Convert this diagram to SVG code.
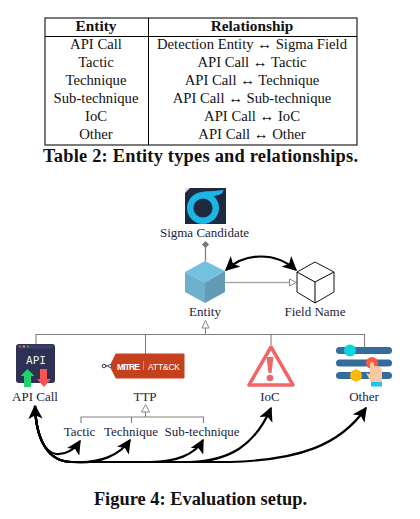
<svg xmlns="http://www.w3.org/2000/svg" width="420" height="519" viewBox="0 0 420 519">
<style>
text{font-family:"Liberation Serif","Times New Roman",serif;fill:#111;text-anchor:middle}
.t{font-size:14.700px}
.h{font-size:15.300px;font-weight:bold}
.c{font-size:18.400px;font-weight:bold}
.l{font-size:13px;fill:#1a2340}
.g{fill:none;stroke:#808080;stroke-width:1.100}
.k{fill:none;stroke:#000;stroke-width:2.200}
.b{fill:none;stroke:#000;stroke-width:1}
</style>
<defs>
<marker id="ah" viewBox="0 0 10 10" refX="9" refY="5" markerWidth="6.500" markerHeight="6.500" markerUnits="strokeWidth" orient="auto-start-reverse"><path d="M0 0L10 5L0 10L2.500 5Z" fill="#000"/></marker>
</defs>
<g id="table">
<rect x="45" y="18" width="312" height="127" class="b" style="stroke:#333;stroke-width:1.300"/>
<path d="M45 36.500H357M148.500 18V145" class="b"/>
<text class="h" x="96" y="31">Entity</text><text class="h" x="252" y="31">Relationship</text>
<text class="t" x="96" y="49">API Call</text><text class="t" x="252" y="49">Detection Entity ↔ Sigma Field</text>
<text class="t" x="96" y="67">Tactic</text><text class="t" x="252" y="67">API Call ↔ Tactic</text>
<text class="t" x="96" y="85">Technique</text><text class="t" x="252" y="85">API Call ↔ Technique</text>
<text class="t" x="96" y="103">Sub-technique</text><text class="t" x="252" y="103">API Call ↔ Sub-technique</text>
<text class="t" x="96" y="121">IoC</text><text class="t" x="252" y="121">API Call ↔ IoC</text>
<text class="t" x="96" y="139">Other</text><text class="t" x="252" y="139">API Call ↔ Other</text>
<text class="c" x="200.500" y="162" textLength="315">Table 2: Entity types and relationships.</text>
</g>
<g id="connectors">
<path class="g" d="M205.500 244V261" style="stroke-width:1.300"/>
<path d="M205.500 241L209 244.500L205.500 248L202 244.500Z" fill="#777"/>
<path class="g" d="M225 282.500H290" style="stroke:#aaa;stroke-width:1.500"/>
<path d="M289.500 279L296.500 282.500L289.500 286Z" fill="#fff" stroke="#888"/>
<path class="g" d="M205.500 328V334"/>
<path d="M205.500 320.500L209 328L202 328Z" fill="#fff" stroke="#888"/>
<path class="g" d="M36 344V334.500H364.500V349M145.500 334.500V354M271 334.500V345"/>
<path class="g" d="M145.500 412V417M81 423V417H203.500V423M131.500 417V423"/>
<path d="M145.500 404.500L149.500 412L141.500 412Z" fill="#fff" stroke="#888"/>
<path class="k" d="M226 270C246 252 276 252 296 270" marker-start="url(#ah)" marker-end="url(#ah)"/>
<path class="k" d="M35 406C36 435 44 452 56 454C66 455 75 449 80 441" marker-start="url(#ah)" marker-end="url(#ah)"/>
<path class="k" d="M35 406C36 440 48 462 72 462C100 464 120 455 130 440" marker-end="url(#ah)"/>
<path class="k" d="M35 406C36 440 48 462 72 462H150C175 462 195 455 203 440" marker-end="url(#ah)"/>
<path class="k" d="M35 406C36 440 48 462 72 462H190C230 461 255 445 271 408" marker-end="url(#ah)"/>
<path class="k" d="M35 406C36 440 48 462 72 462H230C300 460 340 445 366 408" marker-end="url(#ah)"/>
</g>
<g id="sigma">
<rect x="185" y="188" width="41" height="36" fill="#1e2a3f"/>
<path d="M185 188h5l-5 5Z" fill="#dfe3ea"/>
<circle cx="203" cy="208" r="12.800" fill="none" stroke="#1cb5e8" stroke-width="6.400"/>
<path d="M203 191.500C210 191 218 191 223.500 190C223 193 221 195 216 195.500L208 198Z" fill="#1cb5e8"/>
<text class="l" x="204.500" y="237">Sigma Candidate</text>
</g>
<g id="entity">
<path d="M205 261L225 271L205 282.500L185 272Z" fill="#74c0e0"/>
<path d="M185 272L205 282.500V303L185 292Z" fill="#6db0cd"/>
<path d="M225 271L205 282.500V303L225 292Z" fill="#639ab5"/>
<text class="l" x="205" y="316">Entity</text>
</g>
<g id="field-name">
<path d="M315 262L334 272V292L315 303L297 292V272Z" fill="#fff" stroke="#111" stroke-width="1"/>
<path d="M297 272L315 282L334 272M315 282V303" class="b"/>
<text class="l" x="315" y="316">Field Name</text>
</g>
<g id="api-call">
<rect x="16" y="344" width="39" height="39" rx="3" fill="#2e3054"/>
<rect x="18" y="345" width="35" height="3.500" fill="#3b3e68"/>
<circle cx="20" cy="346.500" r="1" fill="#ef5350"/><circle cx="24" cy="346.500" r="1" fill="#f5b942"/><circle cx="28" cy="346.500" r="1" fill="#4caf50"/>
<text x="36" y="363.500" style="font-family:'DejaVu Sans Mono',monospace;font-size:11px;fill:#f2f2f2">API</text>
<path d="M27.500 369L34.500 376H31V387H24V376H20.500Z" fill="#1fd36a"/>
<path d="M40 369H47V379H51L44 387L37 379H40Z" fill="#fb5252"/>
<text class="l" x="35" y="401">API Call</text>
</g>
<g id="ttp">
<path d="M110 366L116 354H184V378H116Z" fill="#c5401c" stroke="#c5401c" stroke-width="1" stroke-linejoin="round"/>
<path d="M103 366H110" stroke="#2b3a55" stroke-width="1.200"/>
<circle cx="104" cy="366" r="1.800" fill="#fff" stroke="#2b3a55"/><circle cx="110" cy="366" r="1.500" fill="#fff" stroke="#2b3a55" stroke-width=".8"/>
<text x="128.500" y="369.500" textLength="23" style="font-family:'Liberation Sans',sans-serif;font-size:8.500px;font-weight:bold;fill:#fff">MITRE</text>
<path d="M143.500 361V370" stroke="#e8a48d" stroke-width=".7"/>
<text x="164" y="369.500" textLength="32" style="font-family:'Liberation Sans',sans-serif;font-size:8.500px;fill:#fff">ATT&amp;CK</text>
<text class="l" x="145" y="401">TTP</text>
</g>
<g id="ioc">
<path d="M271 347L249 385H293Z" fill="#fff" stroke="#ee6767" stroke-width="3.500" stroke-linejoin="round"/>
<path d="M266.500 357H273.500L271.500 373H268.500Z" fill="#ee6767"/>
<circle cx="270" cy="378" r="3.300" fill="#ee6767"/>
<text class="l" x="270" y="401">IoC</text>
</g>
<g id="other">
<rect x="336" y="347" width="56" height="7" rx="3.500" fill="#336c9c"/>
<rect x="336" y="359.500" width="56" height="7" rx="3.500" fill="#336c9c"/>
<rect x="336" y="372" width="56" height="7" rx="3.500" fill="#336c9c"/>
<circle cx="350" cy="350.500" r="6" fill="#0ad4dd"/>
<circle cx="356" cy="375.500" r="6" fill="#fcb90b"/>
<circle cx="372" cy="363" r="6" fill="#f9583c"/>
<path d="M370 364a2 2 0 0 1 4 0V366H378Q382 367 382 372V382H371L366 373L370 374Z" fill="#f8c8a4"/>
<rect x="371" y="382" width="11" height="4.500" fill="#1cc4ee"/>
<text class="l" x="364" y="401">Other</text>
</g>
<g id="tactic"><text class="l" x="79.500" y="436">Tactic</text></g>
<g id="technique"><text class="l" x="131" y="436">Technique</text></g>
<g id="sub-technique"><text class="l" x="202" y="436">Sub-technique</text></g>
<g id="caption"><text class="c" x="200.500" y="505">Figure 4: Evaluation setup.</text></g>
</svg>
